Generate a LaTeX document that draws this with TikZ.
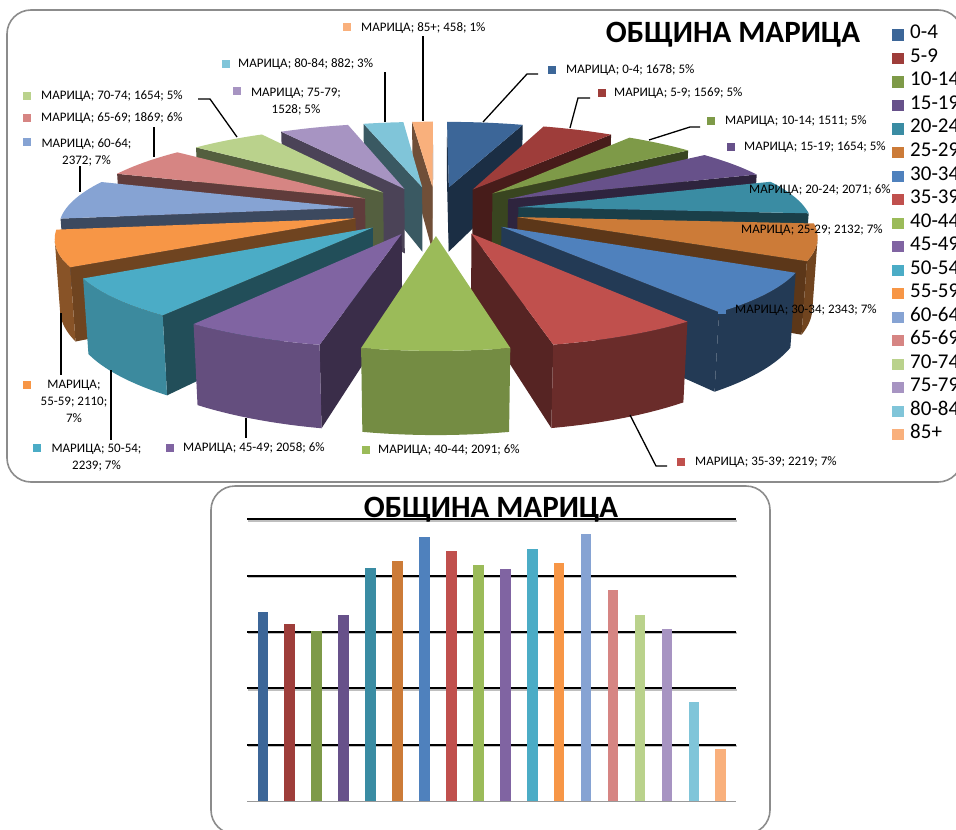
\documentclass[tikz,border=0pt]{standalone}
\usepackage{fontspec}
\setmainfont{Carlito}
\definecolor{k1}{HTML}{3C6698}
\definecolor{k2}{HTML}{9E3D3A}
\definecolor{k3}{HTML}{7E9A48}
\definecolor{k4}{HTML}{67518A}
\definecolor{k5}{HTML}{3A8CA3}
\definecolor{k6}{HTML}{CC7B38}
\definecolor{k7}{HTML}{4F81BD}
\definecolor{k8}{HTML}{C0504D}
\definecolor{k9}{HTML}{9BBB59}
\definecolor{k10}{HTML}{8064A2}
\definecolor{k11}{HTML}{4BACC6}
\definecolor{k12}{HTML}{F79646}
\definecolor{k13}{HTML}{86A3D3}
\definecolor{k14}{HTML}{D68583}
\definecolor{k15}{HTML}{BAD28C}
\definecolor{k16}{HTML}{A794C2}
\definecolor{k17}{HTML}{80C5D9}
\definecolor{k18}{HTML}{F9B07C}
\tikzset{
  declare function={
    pX(\xx,\yy,\zz)=436+1568*\xx/(5.44+0.9563*\yy-0.2924*\zz);
    pY(\xx,\yy,\zz)=210.3-1568*(0.2924*\yy+0.9563*\zz)/(5.44+0.9563*\yy-0.2924*\zz);
  },
  frame/.style={draw=black!45, line width=1.6pt, rounded corners=24pt},
  lab/.style={font=\fontsize{13}{17}\selectfont, inner sep=0pt, anchor=mid west},
  labc/.style={font=\fontsize{13}{17}\selectfont, inner sep=0pt, align=center, anchor=north},
  leader/.style={draw=black, line width=1.3pt},
  leg/.style={font=\fontsize{21}{24}\selectfont, inner sep=0pt, anchor=mid west},
  ttl/.style={font=\fontsize{31}{36}\selectfont\bfseries, inner sep=0pt},
  gridl/.style={line width=2pt, black},
}
\begin{document}
\begin{tikzpicture}[x=1pt,y=-1pt]
\clip (0,0) rectangle (956,830);
\fill[white] (0,0) rectangle (956,830);
% frames
\draw[frame] (7,10) rectangle (962,482);
\draw[frame] (211,486) rectangle (770,834);
% ---------- 3D exploded pie ----------
\foreach \aa/\bb/\col/\wt in {
  354.917/360/k18/60, 0/18.623/k1/60, 345.129/354.917/k17/60,
  328.170/345.129/k16/60, 18.623/36.035/k2/60, 309.814/328.170/k15/60,
  36.035/52.805/k3/60, 289.072/309.814/k14/60, 52.805/71.162/k4/55,
  71.162/94.145/k5/50, 262.748/289.072/k13/60, 94.145/117.806/k6/55,
  239.331/262.748/k12/55, 117.806/143.809/k7/45, 214.482/239.331/k11/80,
  143.809/168.436/k8/55, 191.642/214.482/k10/78, 168.436/191.642/k9/75}{
  \pgfmathsetmacro\mm{(\aa+\bb)/2}
  \pgfmathsetmacro\ox{0.29*sin(\mm)}
  \pgfmathsetmacro\oy{0.29*cos(\mm)}
  \pgfmathtruncatemacro\vA{(\ox*cos(\aa)-sin(\aa)*(5.202+\oy))>0}
  \pgfmathtruncatemacro\vB{(sin(\bb)*(5.202+\oy)-\ox*cos(\bb))>0}
  \pgfmathsetmacro\ta{max(\aa,104.36)}
  \pgfmathsetmacro\tb{min(\bb,255.64)}
  \pgfmathtruncatemacro\vO{\tb>\ta+0.01}
  \ifnum\vA=1
    \fill[\col!45!black] ({pX(\ox,\oy,0)},{pY(\ox,\oy,0)})
      -- ({pX(\ox+sin(\aa),\oy+cos(\aa),0)},{pY(\ox+sin(\aa),\oy+cos(\aa),0)})
      -- ({pX(\ox+sin(\aa),\oy+cos(\aa),-0.247)},{pY(\ox+sin(\aa),\oy+cos(\aa),-0.247)})
      -- ({pX(\ox,\oy,-0.247)},{pY(\ox,\oy,-0.247)}) -- cycle;
  \fi
  \ifnum\vB=1
    \fill[\col!45!black] ({pX(\ox,\oy,0)},{pY(\ox,\oy,0)})
      -- ({pX(\ox+sin(\bb),\oy+cos(\bb),0)},{pY(\ox+sin(\bb),\oy+cos(\bb),0)})
      -- ({pX(\ox+sin(\bb),\oy+cos(\bb),-0.247)},{pY(\ox+sin(\bb),\oy+cos(\bb),-0.247)})
      -- ({pX(\ox,\oy,-0.247)},{pY(\ox,\oy,-0.247)}) -- cycle;
  \fi
  \ifnum\vO=1
    \fill[\col!\wt!black]
      plot[domain=\ta:\tb, samples=14, variable=\t]
        ({pX(\ox+sin(\t),\oy+cos(\t),0)},{pY(\ox+sin(\t),\oy+cos(\t),0)})
      -- plot[domain=\tb:\ta, samples=14, variable=\t]
        ({pX(\ox+sin(\t),\oy+cos(\t),-0.247)},{pY(\ox+sin(\t),\oy+cos(\t),-0.247)})
      -- cycle;
  \fi
  \fill[\col] ({pX(\ox,\oy,0)},{pY(\ox,\oy,0)})
    -- plot[domain=\aa:\bb, samples=16, variable=\t]
      ({pX(\ox+sin(\t),\oy+cos(\t),0)},{pY(\ox+sin(\t),\oy+cos(\t),0)})
    -- cycle;
}
% ---------- titles ----------
\node[ttl] (title1) at (733,35) {ОБЩИНА МАРИЦА};
% ---------- legend ----------
\foreach \lbl/\col [count=\i] in {0-4/k1,5-9/k2,10-14/k3,15-19/k4,20-24/k5,25-29/k6,
  30-34/k7,35-39/k8,40-44/k9,45-49/k10,50-54/k11,55-59/k12,60-64/k13,65-69/k14,
  70-74/k15,75-79/k16,80-84/k17,85+/k18}{
  \pgfmathsetmacro\ly{35+23.52*(\i-1)}
  \fill[\col] (892,\ly-5.6) rectangle (903.5,\ly+5.6);
  \node[leg] (leg\i) at (910,\ly+1.5) {\lbl};
}
% ---------- data labels ----------
\fill[k1] (548,66) rectangle (556,74);
\node[lab] (d1) at (566,71) {МАРИЦА; 0-4; 1678; 5\%};
\fill[k2] (598,89) rectangle (606,97);
\node[lab] (d2) at (614,94.5) {МАРИЦА; 5-9; 1569; 5\%};
\fill[k3] (707,117) rectangle (715,125);
\node[lab] (d3) at (725,122.5) {МАРИЦА; 10-14; 1511; 5\%};
\fill[k4] (727,143) rectangle (735,151);
\node[lab] (d4) at (744,148) {МАРИЦА; 15-19; 1654; 5\%};
\fill[k5] (733,186) rectangle (741,194);
\node[lab] (d5) at (749,191) {МАРИЦА; 20-24; 2071; 6\%};
\fill[k6] (723,227) rectangle (731,235);
\node[lab] (d6) at (741,231) {МАРИЦА; 25-29; 2132; 7\%};
\fill[k7] (718,306) rectangle (726,314);
\node[lab] (d7) at (735,311) {МАРИЦА; 30-34; 2343; 7\%};
\fill[k8] (677,458) rectangle (685,466);
\node[lab] (d8) at (695,463) {МАРИЦА; 35-39; 2219; 7\%};
\fill[k9] (362,446) rectangle (370,454);
\node[lab] (d9) at (378,451) {МАРИЦА; 40-44; 2091; 6\%};
\fill[k10] (166,444) rectangle (174,452);
\node[lab] (d10) at (183,449) {МАРИЦА; 45-49; 2058; 6\%};
\fill[k11] (33,444) rectangle (41,452);
\node[labc] (d11) at (96.5,443.8) {МАРИЦА; 50-54;\\2239; 7\%};
\fill[k12] (23,381) rectangle (31,389);
\node[labc] (d12) at (74,379.8) {МАРИЦА;\\55-59; 2110;\\7\%};
\fill[k13] (23,138) rectangle (31,146);
\node[labc] (d13) at (86.5,138.8) {МАРИЦА; 60-64;\\2372; 7\%};
\fill[k14] (23,114) rectangle (31,122);
\node[lab] (d14) at (41,119) {МАРИЦА; 65-69; 1869; 6\%};
\fill[k15] (23,92) rectangle (31,100);
\node[lab] (d15) at (41,97) {МАРИЦА; 70-74; 1654; 5\%};
\fill[k16] (233,87) rectangle (241,95);
\node[labc] (d16) at (296,87.8) {МАРИЦА; 75-79;\\1528; 5\%};
\fill[k17] (222,60) rectangle (230,68);
\node[lab] (d17) at (238,65) {МАРИЦА; 80-84; 882; 3\%};
\fill[k18] (343,23) rectangle (351,31);
\node[lab] (d18) at (361,29) {МАРИЦА; 85+; 458; 1\%};
% leader lines
\coordinate (p1a) at (483,122); \coordinate (p1b) at (527,74); \coordinate (p1c) at (538,74);
\draw[leader] (p1a) -- (p1b) -- (p1c);
\coordinate (p2a) at (570,128); \coordinate (p2b) at (578,98); \coordinate (p2c) at (590,98);
\draw[leader] (p2a) -- (p2b) -- (p2c);
\coordinate (p3a) at (649,140); \coordinate (p3b) at (690,127); \coordinate (p3c) at (700,127);
\draw[leader] (p3a) -- (p3b) -- (p3c);
\coordinate (p8a) at (630,415); \coordinate (p8b) at (656,466); \coordinate (p8c) at (667,466);
\draw[leader] (p8a) -- (p8b) -- (p8c);
\coordinate (p10a) at (246,418); \coordinate (p10b) at (246,438);
\draw[leader] (p10a) -- (p10b);
\coordinate (p11a) at (111,370); \coordinate (p11b) at (111,440);
\draw[leader] (p11a) -- (p11b);
\coordinate (p12a) at (61,313); \coordinate (p12b) at (61,375);
\draw[leader] (p12a) -- (p12b);
\coordinate (p13a) at (80,166); \coordinate (p13b) at (80,192);
\draw[leader] (p13a) -- (p13b);
\coordinate (p14a) at (154,127); \coordinate (p14b) at (154,157);
\draw[leader] (p14a) -- (p14b);
\coordinate (p15a) at (198,99); \coordinate (p15b) at (210,99); \coordinate (p15c) at (237,137);
\draw[leader] (p15a) -- (p15b) -- (p15c);
\coordinate (p17a) at (385,72); \coordinate (p17b) at (385,122);
\draw[leader] (p17a) -- (p17b);
\coordinate (p18a) at (423,36); \coordinate (p18b) at (423,121);
\draw[leader] (p18a) -- (p18b);
% ---------- bar chart ----------
\foreach \k in {1,...,5}{
  \draw[line width=2pt, black!25] (248,{802.5-56.34*\k}) -- (737,{802.5-56.34*\k});
  \draw[gridl] (247,{801-56.34*\k}) -- (736,{801-56.34*\k});
}
\foreach \v/\col [count=\i] in {1678/k1,1569/k2,1511/k3,1654/k4,2071/k5,2132/k6,
  2343/k7,2219/k8,2091/k9,2058/k10,2239/k11,2110/k12,2372/k13,1869/k14,
  1654/k15,1528/k16,882/k17,458/k18}{
  \pgfmathsetmacro\xc{262.8+26.94*(\i-1)}
  \fill[\col] (\xc-5.3,801) rectangle (\xc+5.3,{801-0.11268*\v});
}
\draw[line width=1.6pt, black!40] (247,801.5) -- (736,801.5);
\node[ttl] (title2) at (491,510) {ОБЩИНА МАРИЦА};
\end{tikzpicture}
\end{document}
